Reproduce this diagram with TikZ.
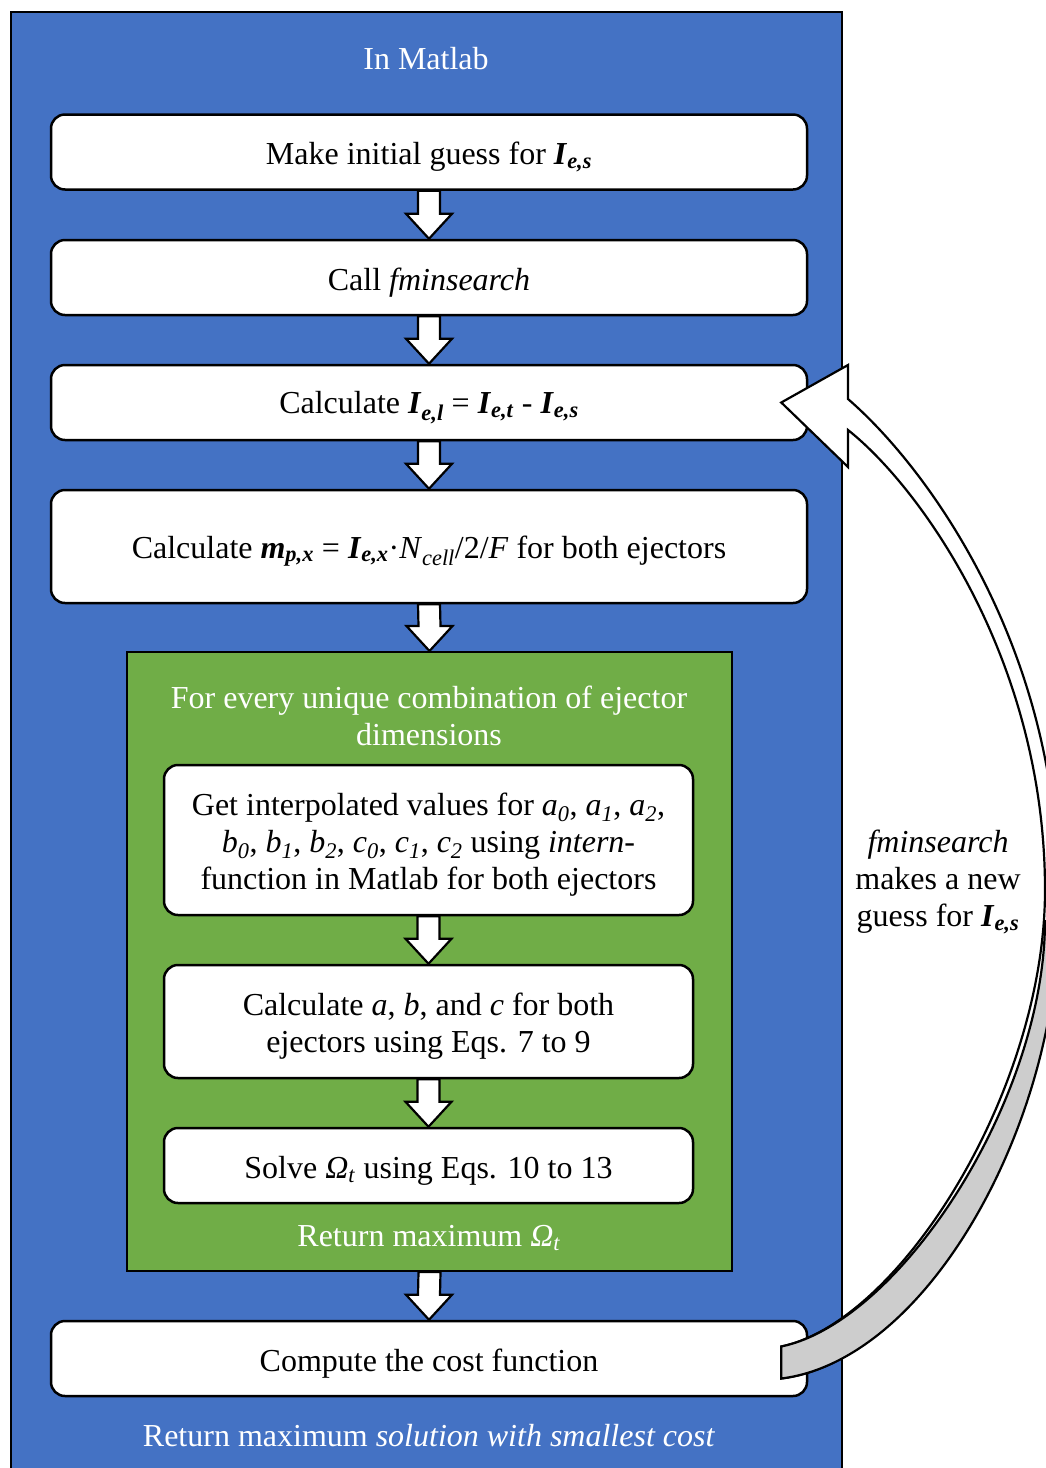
\documentclass[tikz,border=0pt]{standalone}
\usepackage{fontspec}
\setmainfont{Liberation Serif}
\usetikzlibrary{calc}

\definecolor{matlabblue}{HTML}{4472C4}
\definecolor{loopgreen}{HTML}{70AD47}
\definecolor{shadegray}{HTML}{CDCDCD}

% bold italic / italic variables with subscript
\newcommand{\bvar}[2]{\textbf{\textit{#1}}\textsubscript{\textbf{\textit{#2}}}}
\newcommand{\ivar}[2]{\textit{#1}\textsubscript{\textit{#2}}}
% text sits a bit low in the boxes, as in Word
\newcommand{\lowstrut}{\rule{0pt}{32pt}}

% block arrow from one box down to the next
\newcommand{\blkarrow}[2]{%
  \draw[blkarr] ($(#1.south)+(-11,0)$) -- ($(#2.north)+(-11,-25)$)
    -- ($(#2.north)+(-23,-25)$) -- (#2.north) -- ($(#2.north)+(23,-25)$)
    -- ($(#2.north)+(11,-25)$) -- ($(#1.south)+(11,0)$) -- cycle;}

\begin{document}
\begin{tikzpicture}[
  x=1pt, y=-1pt,
  every node/.style={font=\fontsize{32}{37}\selectfont, align=center},
  stepbox/.style={
    draw, line width=2.5pt, fill=white,
    rounded corners=14pt, inner sep=0pt,
    minimum width=756pt, minimum height=75pt
  },
  innerbox/.style={stepbox, minimum width=529pt},
  blkarr/.style={draw, fill=white, line width=2.2pt, line join=miter},
  curvarr/.style={draw, fill=white, line width=2.2pt, line join=miter},
  caption/.style={text=white}
]
\useasboundingbox (0,0) rectangle (1046,1468);

% Matlab frame
\filldraw[fill=matlabblue, draw=black, line width=2pt] (11,12) rectangle (842,1490);
\node[caption] (matlab) at (426,59) {In Matlab};

\node[stepbox] (guess) at (429,152) {\lowstrut Make initial guess for \bvar{I}{e,s}};
\node[stepbox] (call) at (429,277.5) {\lowstrut Call \textit{fminsearch}};
\node[stepbox] (iel) at (429,402.5) {\lowstrut Calculate \bvar{I}{e,l} = \bvar{I}{e,t} - \bvar{I}{e,s}};
\node[stepbox, minimum height=113pt] (mpx) at (429,546.5)
  {\lowstrut Calculate \bvar{m}{p,x} = \bvar{I}{e,x}·\ivar{N}{cell}/2/\textit{F} for both ejectors};

% loop over ejector dimensions
\node[draw, fill=loopgreen, line width=2pt, minimum width=605pt, minimum height=619pt] (loop) at (429.5,961.5) {};
\node[caption] (looptitle) at (429,716) {For every unique combination of ejector\\dimensions};
\node[innerbox, minimum height=150pt] (interp) at (428.5,840)
  {\lowstrut Get interpolated values for \ivar{a}{0}, \ivar{a}{1}, \ivar{a}{2},\\
   \ivar{b}{0}, \ivar{b}{1}, \ivar{b}{2}, \ivar{c}{0}, \ivar{c}{1}, \ivar{c}{2} using \textit{intern}-\\
   function in Matlab for both ejectors};
\node[innerbox, minimum height=113pt] (abc) at (428.5,1021.5)
  {\lowstrut Calculate \textit{a}, \textit{b}, and \textit{c} for both\\ejectors using Eqs. 7 to 9};
\node[innerbox] (omega) at (428.5,1165.5) {\lowstrut Solve \ivar{Ω}{t} using Eqs. 10 to 13};
\node[caption] (loopresult) at (429,1238) {Return maximum \ivar{Ω}{t}};

\node[stepbox] (cost) at (429,1358.5) {\lowstrut Compute the cost function};
\node[caption] (result) at (429,1436) {Return maximum \textit{solution with smallest cost}};

\blkarrow{guess}{call}
\blkarrow{call}{iel}
\blkarrow{iel}{mpx}
\blkarrow{mpx}{loop}
\blkarrow{interp}{abc}
\blkarrow{abc}{omega}
\blkarrow{loop}{cost}

% curved arrow back to the top
\coordinate (tip) at ($(iel.east)+(-27,0)$);
\coordinate (tail) at ($(cost.east)+(-27,0)$);
\draw[curvarr] (tip) -- (848,365) -- (848,399)
  .. controls (930,470) and (1058,650) .. (1058,890)
  .. controls (1058,1110) and (930,1360) .. ($(tail)+(0,20)$)
  -- ($(tail)+(0,-12)$)
  .. controls (900,1322) and (1045,1090) .. (1045,890)
  .. controls (1045,660) and (920,487) .. (848,430)
  -- (848,467) -- cycle;
\draw[curvarr, fill=shadegray] (1058,920)
  .. controls (1058,1120) and (930,1360) .. ($(tail)+(0,20)$)
  -- ($(tail)+(0,-12)$)
  .. controls (900,1322) and (1045,1100) .. (1045,920);
\node (newguess) at (938,882) {\textit{fminsearch}\\makes a new\\guess for \bvar{I}{e,s}};
\end{tikzpicture}
\end{document}
